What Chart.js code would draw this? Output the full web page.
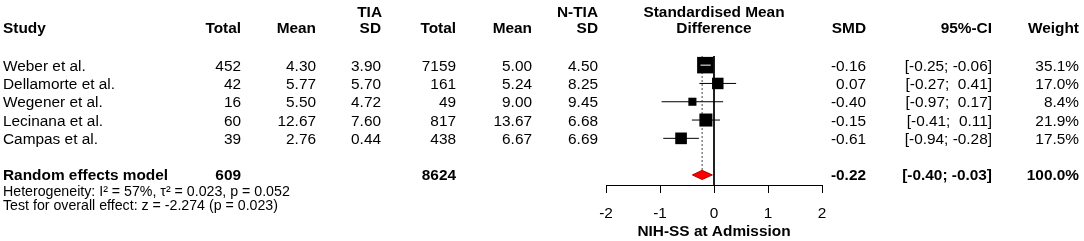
<!DOCTYPE html>
<html>
<head>
<meta charset="utf-8">
<script src="https://cdn.jsdelivr.net/npm/chart.js@4"></script>
<style>
  body { margin: 0; background: #fff; }
  canvas { display: block; }
</style>
</head>
<body>
<canvas id="forest" width="1084" height="241"></canvas>
<script>
// study data
const studies = ['Weber et al.', 'Dellamorte et al.', 'Wegener et al.', 'Lecinana et al.', 'Campas et al.'];
const tiaTotal = [452, 42, 16, 60, 39];
const tiaMean = [4.30, 5.77, 5.50, 12.67, 2.76];
const tiaSD = [3.90, 5.70, 4.72, 7.60, 0.44];
const ntiaTotal = [7159, 161, 49, 817, 438];
const ntiaMean = [5.00, 5.24, 9.00, 13.67, 6.67];
const ntiaSD = [4.50, 8.25, 9.45, 6.68, 6.69];
const smd = [-0.16, 0.07, -0.40, -0.15, -0.61];
const ciLow = [-0.25, -0.27, -0.97, -0.41, -0.94];
const ciHigh = [-0.06, 0.41, 0.17, 0.11, -0.28];
const weight = [35.1, 17.0, 8.4, 21.9, 17.5];

// random effects summary
const pooledLabel = 'Random effects model';
const pooledTia = 609;
const pooledNtia = 8624;
const pooledSmd = -0.22;
const pooledLow = -0.40;
const pooledHigh = -0.03;
const pooledWeight = 100.0;
const hetText = 'Heterogeneity: I\u00b2 = 57%, \u03c4\u00b2 = 0.023, p = 0.052';
const testText = 'Test for overall effect: z = -2.274 (p = 0.023)';

const xTicks = [-2, -1, 0, 1, 2];
const xTitle = 'NIH-SS at Admission';

// row layout (y scale units, one per row)
const yMin = 0.5, yMax = 7.55;
const summaryRow = 7;
const diamondHalf = 0.25;
const maxBox = 16.5; // px side of the heaviest study's box

const FONT = '"Liberation Sans", Arial, Helvetica, sans-serif';
const TXT = 15.4;  // table text size
const NOTE = 14.2; // heterogeneity lines

const fmt2 = v => v.toFixed(2);
const fmtCI = (lo, hi) => '[' + fmt2(lo) + '; ' + (hi >= 0 ? ' ' : '') + fmt2(hi) + ']';
const maxW = Math.max(...weight);
const boxSide = weight.map(w => maxBox * Math.sqrt(w / maxW));

const ciSets = studies.map((s, i) => ({
  data: [{x: ciLow[i], y: i + 1}, {x: ciHigh[i], y: i + 1}],
  showLine: true,
  pointRadius: 0,
  borderWidth: 1,
  // white when the whole interval sits inside its box
  borderColor: c => {
    const sx = c.chart.scales.x;
    if (!sx) return '#000';
    const w = sx.getPixelForValue(ciHigh[i]) - sx.getPixelForValue(ciLow[i]);
    return w < boxSide[i] ? '#fff' : '#000';
  },
  order: 1
}));

const tablePlugin = {
  id: 'forestTable',
  afterDraw(chart) {
    const {ctx, scales: {x, y}, chartArea} = chart;
    const put = (txt, px, py, align, bold, size) => {
      ctx.font = (bold ? 'bold ' : '') + size + 'px ' + FONT;
      ctx.textAlign = align;
      ctx.textBaseline = 'alphabetic';
      ctx.fillText(txt, px, py);
    };
    ctx.save();
    ctx.fillStyle = '#000';

    const cols = [
      {x: 241, head: 'Total', vals: tiaTotal.map(String), sum: String(pooledTia)},
      {x: 316, head: 'Mean', vals: tiaMean.map(fmt2), sum: ''},
      {x: 381, head: 'SD', vals: tiaSD.map(fmt2), sum: ''},
      {x: 456, head: 'Total', vals: ntiaTotal.map(String), sum: String(pooledNtia)},
      {x: 532, head: 'Mean', vals: ntiaMean.map(fmt2), sum: ''},
      {x: 598, head: 'SD', vals: ntiaSD.map(fmt2), sum: ''},
      {x: 866, head: 'SMD', vals: smd.map(fmt2), sum: fmt2(pooledSmd)},
      {x: 992, head: '95%-CI', vals: ciLow.map((l, i) => fmtCI(l, ciHigh[i])), sum: fmtCI(pooledLow, pooledHigh)},
      {x: 1079, head: 'Weight', vals: weight.map(w => w.toFixed(1) + '%'), sum: pooledWeight.toFixed(1) + '%'}
    ];

    // headers
    const h1 = 16.5, h2 = 32.5;
    const mid = (chartArea.left + chartArea.right) / 2;
    put('TIA', 382, h1, 'right', true, TXT);
    put('N-TIA', 598, h1, 'right', true, TXT);
    put('Standardised Mean', mid, h1, 'center', true, TXT);
    put('Difference', mid, h2, 'center', true, TXT);
    put('Study', 3, h2, 'left', true, TXT);
    cols.forEach(c => put(c.head, c.x, h2, 'right', true, TXT));

    // study rows
    studies.forEach((s, i) => {
      const py = y.getPixelForValue(i + 1) + 5.5;
      put(s, 3, py, 'left', false, TXT);
      cols.forEach(c => put(c.vals[i], c.x, py, 'right', false, TXT));
    });

    // summary row
    const sy = y.getPixelForValue(summaryRow) + 5.5;
    put(pooledLabel, 3, sy, 'left', true, TXT);
    cols.forEach(c => { if (c.sum) put(c.sum, c.x, sy, 'right', true, TXT); });

    put(hetText, 3, 196, 'left', false, NOTE);
    put(testText, 3, 210, 'left', false, NOTE);
    ctx.restore();
  }
};

new Chart(document.getElementById('forest'), {
  type: 'scatter',
  data: {
    datasets: [
      {
        data: [{x: 0, y: yMin}, {x: 0, y: yMax}],
        showLine: true, pointRadius: 0, borderColor: '#000', borderWidth: 1, order: 5
      },
      {
        data: [{x: pooledSmd, y: yMin}, {x: pooledSmd, y: summaryRow - diamondHalf}],
        showLine: true, pointRadius: 0, borderColor: '#444', borderWidth: 1,
        borderDash: [2, 2], order: 4
      },
      {
        data: [
          {x: pooledLow, y: summaryRow},
          {x: pooledSmd, y: summaryRow - diamondHalf},
          {x: pooledHigh, y: summaryRow},
          {x: pooledSmd, y: summaryRow + diamondHalf},
          {x: pooledLow, y: summaryRow}
        ],
        showLine: true, pointRadius: 0, fill: 'shape',
        backgroundColor: '#ff0000', borderColor: '#b00000', borderWidth: 1, order: 3
      },
      {
        data: smd.map((v, i) => ({x: v, y: i + 1})),
        pointStyle: 'rect',
        pointRadius: boxSide.map(s => s / Math.SQRT2),
        backgroundColor: '#000',
        borderWidth: 0,
        order: 2
      },
      ...ciSets
    ]
  },
  options: {
    responsive: false,
    animation: false,
    events: [],
    layout: {padding: {left: 606, right: 262, top: 56, bottom: 0}},
    plugins: {legend: {display: false}, tooltip: {enabled: false}},
    scales: {
      x: {
        type: 'linear',
        min: -2, max: 2,
        afterBuildTicks: s => { s.ticks = xTicks.map(v => ({value: v})); },
        afterFit: s => { s.height = 56; },
        ticks: {
          color: '#000',
          padding: 12,
          maxRotation: 0,
          autoSkip: false,
          font: {family: FONT, size: 15.4},
          callback: v => String(v)
        },
        grid: {drawOnChartArea: false, drawTicks: true, tickLength: 8, color: '#000', tickColor: '#000'},
        border: {display: true, color: '#000', width: 1},
        title: {
          display: true,
          text: xTitle,
          color: '#000',
          font: {family: FONT, size: 15.4, weight: 'bold'},
          padding: {top: 0, bottom: 0}
        }
      },
      y: {
        type: 'linear',
        display: false,
        reverse: true,
        min: yMin, max: yMax
      }
    }
  },
  plugins: [tablePlugin]
});
</script>
</body>
</html>
